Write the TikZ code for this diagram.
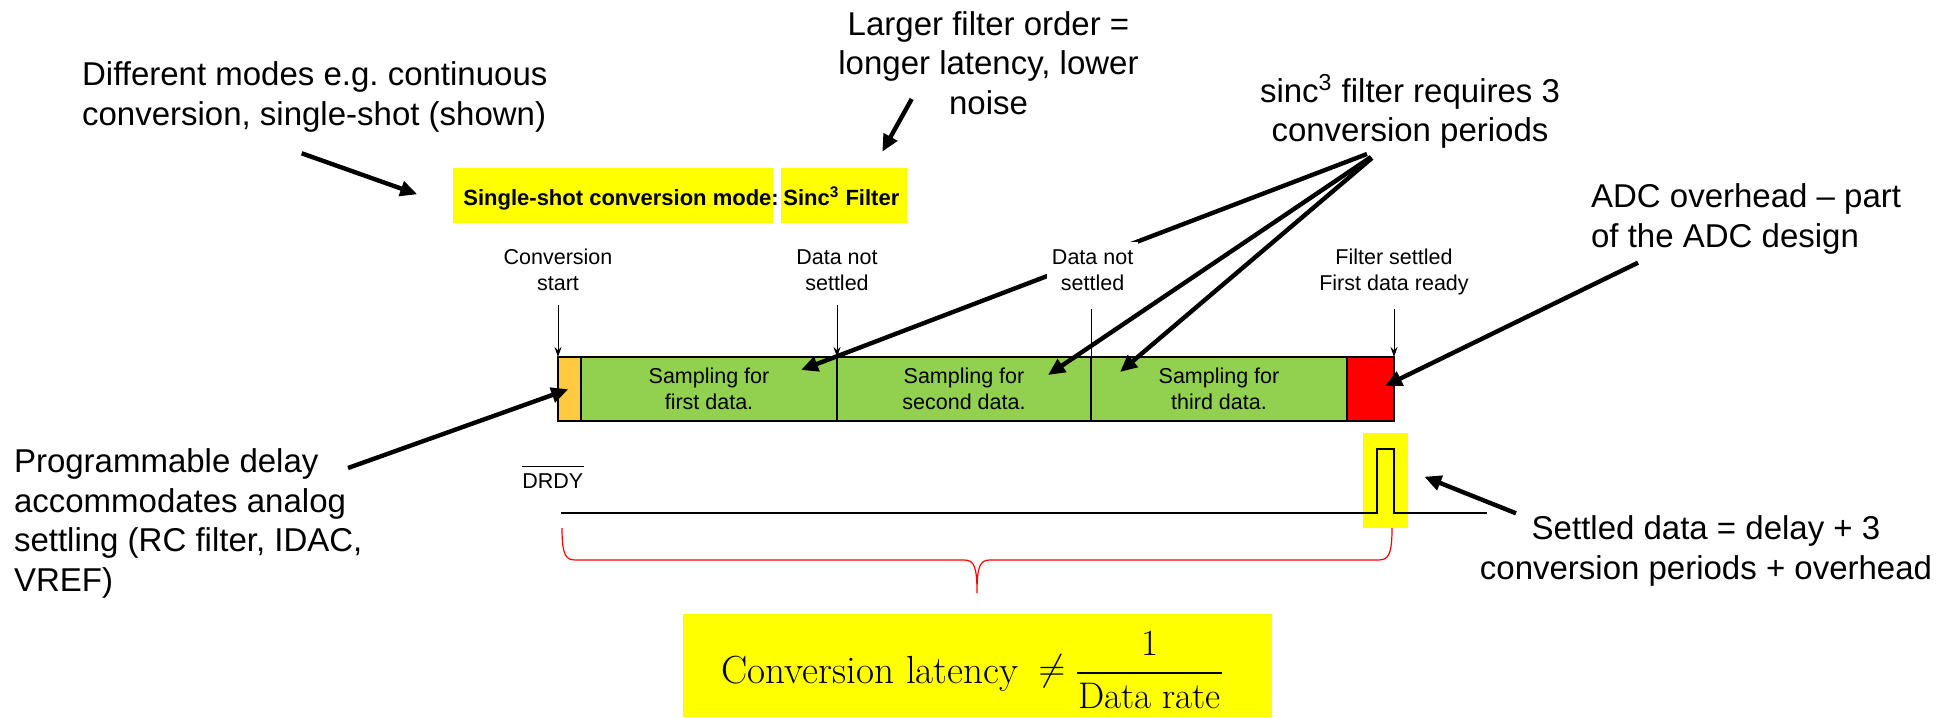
\RequirePackage{fix-cm}
\documentclass[tikz,border=0pt]{standalone}
\usepackage{fontspec}
\usetikzlibrary{arrows.meta}
\newfontfamily\arialf{Liberation Sans}
\definecolor{hlyellow}{HTML}{FFFF00}
\definecolor{delayorange}{HTML}{FFC940}
\definecolor{sampgreen}{HTML}{92D050}
\definecolor{ovred}{HTML}{FF0000}
\begin{document}
\begin{tikzpicture}[x=0.5pt,y=-0.5pt,
  bigtxt/.style={font=\arialf\fontsize{16.5}{19.75}\selectfont, inner sep=0pt},
  smalltxt/.style={font=\arialf\fontsize{10.75}{13}\selectfont, inner sep=0pt, align=center},
  titletxt/.style={font=\arialf\bfseries\fontsize{11}{13}\selectfont, inner sep=0pt, anchor=base west},
  hlbox/.style={fill=hlyellow, draw=none, inner sep=0pt, outer sep=0pt},
  seg/.style={draw=black, line width=0.8pt, inner sep=0pt, outer sep=0pt, minimum height=32pt, anchor=north west, font=\arialf\fontsize{10.75}{13}\selectfont, align=center},
  callout/.style={line width=2.2pt, -{Triangle[length=8.5pt,width=7.5pt]}},
  tickarrow/.style={line width=0.5pt, -{Stealth[length=5pt,width=3.5pt]}},
  fmfont/.style={inner sep=0pt, font=\rmfamily\fontsize{18.5}{21}\selectfont},
  fmbig/.style={inner sep=0pt, font=\rmfamily\fontsize{19.6}{22}\selectfont},
]
\useasboundingbox (0,0) rectangle (1952,717);

% highlight boxes
\node[hlbox, minimum width=160.15pt, minimum height=27.5pt] (title1) at (612.85,195.5) {};
\node[hlbox, minimum width=63pt, minimum height=27.5pt] (title2) at (844,195.5) {};
\node[hlbox, minimum width=22.25pt, minimum height=47.5pt] (pulsehl) at (1385.25,480.5) {};
\node[hlbox, minimum width=294.5pt, minimum height=51.5pt] (fbox) at (977.5,665.5) {};

% conversion bar
\node[seg, fill=delayorange, minimum width=11.5pt] (ob) at (558,357) {};
\node[seg, fill=sampgreen, minimum width=128pt] (g1) at (ob.north east) {Sampling for\\first data.};
\node[seg, fill=sampgreen, minimum width=127pt] (g2) at (g1.north east) {Sampling for\\second data.};
\node[seg, fill=sampgreen, minimum width=128pt] (g3) at (g2.north east) {Sampling for\\third data.};
\node[seg, fill=ovred, minimum width=23.5pt] (rb) at (g3.north east) {};

% DRDY signal
\coordinate (ds) at (561,512.5);
\coordinate (de) at (1487,512.5);
\draw[line width=1pt] (ds) -- (1377,512.5) -- (1377,449) -- (1394,449) -- (1394,512.5) -- (de);
\node[smalltxt, anchor=base west] (drdy) at (522,488.3) {DRDY};
\draw[line width=0.5pt] ([yshift=3.5pt]drdy.north west) -- ([yshift=3.5pt]drdy.north east);

% brace
\draw[ovred, line width=0.6pt] (562,528) .. controls (562,556) and (566,560) .. (576,560) -- (964,560) .. controls (974,560) and (977,566) .. (977,593) .. controls (977,566) and (980,560) .. (990,560) -- (1378,560) .. controls (1388,560) and (1392,556) .. (1392,528);

% title texts
\node[titletxt] (title1t) at (463,205) {Single-shot conversion mode:};
\node[titletxt] (title2t) at (783,205) {Sinc\textsuperscript{3} Filter};

% annotations (anchor base = baseline of the last line)
\node[bigtxt, align=left, anchor=base west] (tmodes) at (81.7,125.2) {Different modes e.g.\ continuous\\conversion, single-shot (shown)};
\node[bigtxt, align=center, anchor=base] (tfilter) at (988.5,114) {Larger filter order =\\longer latency, lower\\noise};
\node[bigtxt, align=center, anchor=base] (tsinc) at (1410,141.7) {sinc\textsuperscript{3} filter requires 3\\conversion periods};
\node[bigtxt, align=left, anchor=base west] (tover) at (1590.7,247) {ADC overhead \textendash{} part\\of the ADC design};
\node[bigtxt, align=left, anchor=base west] (tdelay) at (13.6,591) {Programmable delay\\accommodates analog\\settling (RC filter, IDAC,\\VREF)};
\node[bigtxt, align=center, anchor=base] (tsettled) at (1706,579.3) {Settled data = delay + 3\\conversion periods + overhead};

% small labels
\node[smalltxt, anchor=base] (lstart) at (558,290) {Conversion\\start};
\node[smalltxt, anchor=base] (lns1) at (837,290) {Data not\\settled};
\node[smalltxt, anchor=base] (lready) at (1394,290) {Filter settled\\First data ready};

% tick arrows
\coordinate (k1) at (558,305);
\coordinate (k2) at (837,305);
\coordinate (k3) at (1091,309);
\coordinate (k4) at (1394,309);
\draw[tickarrow] (k1) -- (ob.north west);
\draw[tickarrow] (k2) -- (g1.north east);
\draw[line width=0.5pt] (k3) -- (g2.north east);
\draw[tickarrow] (k4) -- (rb.north east);

% callout arrows
\coordinate (aT) at (301.7,153.3); \coordinate (aH) at (417.3,194.3);
\coordinate (bT) at (911.7,99);    \coordinate (bH) at (882.3,151.7);
\coordinate (c1T) at (1367,154);   \coordinate (c1H) at (801,370);
\coordinate (c2T) at (1371,157);   \coordinate (c2H) at (1048,375);
\coordinate (c3T) at (1372,158);   \coordinate (c3H) at (1120,372);
\coordinate (dT) at (1638,262.7);  \coordinate (dH) at (1385,386);
\coordinate (eT) at (348,468);     \coordinate (eH) at (568.3,389.3);
\coordinate (fT) at (1516,513.3);  \coordinate (fH) at (1424.3,476.7);
\draw[callout] (aT) -- (aH);
\draw[callout] (bT) -- (bH);
\draw[callout] (c1T) -- (c1H);
\draw[callout] (c2T) -- (c2H);
\draw[callout] (c3T) -- (c3H);
\draw[callout] (dT) -- (dH);
\draw[callout] (eT) -- (eH);
\draw[callout] (fT) -- (fH);

% label that hides the first sinc arrow
\node[smalltxt, anchor=base, fill=white, inner xsep=2.5pt, inner ysep=3.5pt] (lns2) at (1092.6,290) {Data not\\settled};

% formula
\node[fmbig, anchor=base west] (fleft) at (721,683) {Conversion latency};
\node[fmfont] (fneq) at (1052,671) {$\neq$};
\node[fmfont, anchor=base] (fnum) at (1149.5,655) {1};
\node[fmfont, anchor=base] (fden) at (1149.5,708) {Data rate};
\coordinate (fbl) at (1077,673);
\coordinate (fbr) at (1222,673);
\draw[line width=1pt] (fbl) -- (fbr);
\end{tikzpicture}
\end{document}
